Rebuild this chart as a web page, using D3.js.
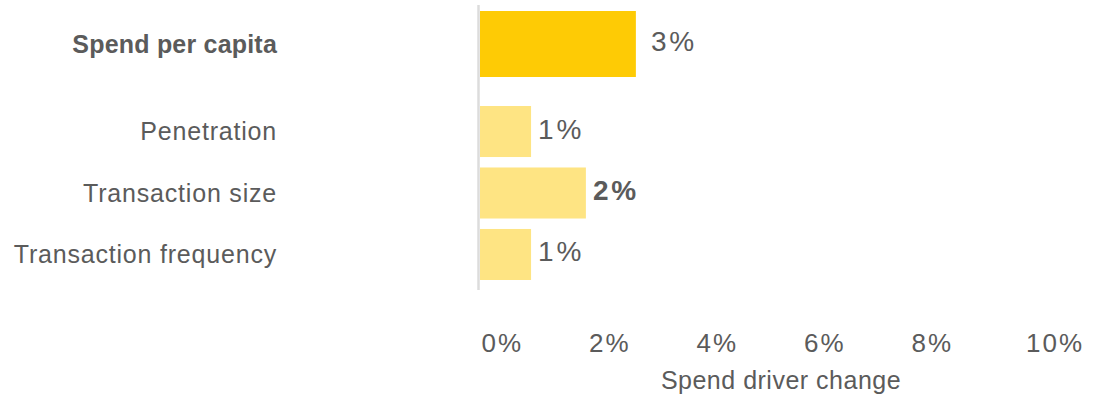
<!DOCTYPE html>
<html>
<head>
<meta charset="utf-8">
<script src="https://cdn.jsdelivr.net/npm/d3@7"></script>
<style>
  html, body { margin: 0; padding: 0; background: #ffffff; }
  svg { display: block; }
  text { font-family: "Liberation Sans", Arial, sans-serif; fill: #5b5b5b; }
</style>
</head>
<body>
<svg id="chart" width="1106" height="396"></svg>
<script>
// Spend per capita and the three drivers behind it (percent change)
const categories = ["Spend per capita", "Penetration", "Transaction size", "Transaction frequency"];
const values = [2.9, 0.95, 1.97, 0.95];
const xTicks = [0, 2, 4, 6, 8, 10];
const axisTitle = "Spend driver change";

const svg = d3.select("#chart");

const x = d3.scaleLinear().domain([0, 10]).range([480, 1017.5]);

// Total row sits on its own, taller band; drivers share a tighter band scale
const yTotal = d3.scaleBand().domain([categories[0]]).range([11, 77]).padding(0);
const yDrivers = d3.scaleBand().domain(categories.slice(1)).range([106, 280])
  .paddingInner(0.17).paddingOuter(0);

const rows = categories.map((c, i) => {
  const total = i === 0;
  const band = total ? yTotal : yDrivers;
  return { name: c, value: values[i], total, y: band(c), h: band.bandwidth() };
});

const pct = d3.format(".0f");

// Bars
svg.append("g").selectAll("rect")
  .data(rows)
  .join("rect")
  .attr("x", x(0))
  .attr("y", d => d.y)
  .attr("width", d => x(d.value) - x(0))
  .attr("height", d => d.h)
  .attr("fill", d => d.total ? "#fecb05" : "#fee483");

// Baseline at zero
svg.append("line")
  .attr("x1", x(0) - 1.5).attr("x2", x(0) - 1.5)
  .attr("y1", 5).attr("y2", 290)
  .attr("stroke", "#dcdcdc")
  .attr("stroke-width", 2.5);

// Category labels
svg.append("g").selectAll("text")
  .data(rows)
  .join("text")
  .attr("x", 277)
  .attr("y", d => d.y + d.h / 2 + 8.5)
  .attr("text-anchor", "end")
  .attr("font-size", 25)
  .attr("font-weight", d => d.total ? 700 : 400)
  .attr("letter-spacing", d => d.total ? "0.2px" : "0.8px")
  .text(d => d.name);

// Value labels
svg.append("g").selectAll("text")
  .data(rows)
  .join("text")
  .attr("x", d => x(d.value) + (d.total ? 15 : 7))
  .attr("y", d => d.y + d.h / 2 + 7)
  .attr("font-size", 28)
  .attr("letter-spacing", "2.8px")
  .attr("font-weight", d => d.name === "Transaction size" ? 700 : 400)
  .text(d => pct(d.value) + "%");

// Bottom axis: labels only
const xAxis = d3.axisBottom(x)
  .tickValues(xTicks)
  .tickFormat(d => d + "%")
  .tickSize(0)
  .tickPadding(0);

const gx = svg.append("g")
  .attr("transform", "translate(0,333)")
  .call(xAxis);
gx.select(".domain").remove();
gx.selectAll(".tick text")
  .attr("text-anchor", "start")
  .attr("dx", d => d === 10 ? 8 : 1)
  .attr("dy", 0)
  .attr("y", 19)
  .attr("fill", "#5f5f5f")
  .attr("font-family", "'Liberation Sans', Arial, sans-serif")
  .attr("font-size", 26)
  .attr("letter-spacing", "2px");

// Axis title
svg.append("text")
  .attr("x", 781)
  .attr("y", 389)
  .attr("text-anchor", "middle")
  .attr("font-size", 25)
  .attr("letter-spacing", "0.5px")
  .text(axisTitle);
</script>
</body>
</html>
